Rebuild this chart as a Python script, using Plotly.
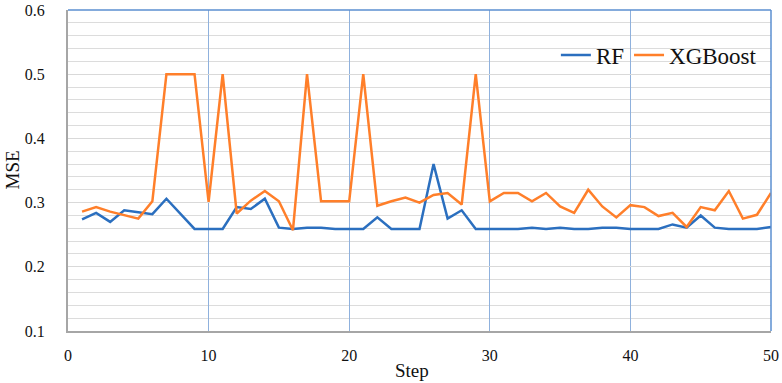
import plotly.graph_objects as go

steps = list(range(1, 51))
rf = [0.274, 0.284, 0.270, 0.288, 0.285, 0.282, 0.306, 0.283, 0.259, 0.259,
      0.259, 0.293, 0.290, 0.306, 0.261, 0.259, 0.261, 0.261, 0.259, 0.259,
      0.259, 0.277, 0.259, 0.259, 0.259, 0.360, 0.275, 0.288, 0.259, 0.259,
      0.259, 0.259, 0.261, 0.259, 0.261, 0.259, 0.259, 0.261, 0.261, 0.259,
      0.259, 0.259, 0.266, 0.261, 0.280, 0.261, 0.259, 0.259, 0.259, 0.262]
xgb = [0.286, 0.293, 0.286, 0.281, 0.275, 0.302, 0.500, 0.500, 0.500, 0.301,
       0.500, 0.283, 0.303, 0.318, 0.302, 0.257, 0.500, 0.302, 0.302, 0.302,
       0.500, 0.295, 0.302, 0.308, 0.300, 0.312, 0.315, 0.297, 0.500, 0.302,
       0.315, 0.315, 0.302, 0.315, 0.294, 0.284, 0.320, 0.294, 0.277, 0.296,
       0.293, 0.279, 0.284, 0.262, 0.293, 0.288, 0.318, 0.275, 0.281, 0.315]
series_names = ["RF", "XGBoost"]
x_ticks = [0, 10, 20, 30, 40, 50]
y_ticks = [0.1, 0.2, 0.3, 0.4, 0.5, 0.6]
x_title = "Step"
y_title = "MSE"

BLUE = "#2B6FBF"
ORANGE = "#FF7F2A"
FONT = "Liberation Serif, Times New Roman, serif"
TXT = "#111111"

fig = go.Figure()
fig.add_trace(go.Scatter(x=steps, y=rf, mode="lines", name=series_names[0],
                         line=dict(color=BLUE, width=2.5)))
fig.add_trace(go.Scatter(x=steps, y=xgb, mode="lines", name=series_names[1],
                         line=dict(color=ORANGE, width=2.5)))

fig.update_layout(
    width=782, height=383,
    margin=dict(l=68, r=11, t=10, b=52, autoexpand=False),
    paper_bgcolor="white", plot_bgcolor="white",
    font=dict(family=FONT, color=TXT, size=16),
    showlegend=True,
    legend=dict(orientation="h", x=0.694, y=0.86, xanchor="left", yanchor="middle",
                bgcolor="rgba(0,0,0,0)", font=dict(family=FONT, size=23, color=TXT),
                itemwidth=30, traceorder="normal"),
    xaxis=dict(range=[0, 50], tickvals=x_ticks, ticktext=[str(v) for v in x_ticks],
               showgrid=True, gridcolor="#8FB1DD", gridwidth=1,
               showline=True, linecolor="#A6A6A6", linewidth=2,
               zeroline=False, ticks="", ticklabelstandoff=9, automargin=False,
               tickfont=dict(family=FONT, size=16, color=TXT)),
    yaxis=dict(range=[0.1, 0.6], tickvals=y_ticks, ticktext=[f"{v:.1f}" for v in y_ticks],
               showgrid=True, gridcolor="#D9D9D9", gridwidth=1,
               minor=dict(dtick=0.02, tick0=0.1, showgrid=True, gridcolor="#DCDCDC", gridwidth=1),
               showline=True, linecolor="#A6A6A6", linewidth=2,
               zeroline=False, ticks="", ticklabelstandoff=18, automargin=False,
               tickfont=dict(family=FONT, size=16, color=TXT)),
    shapes=[
        dict(type="line", xref="paper", yref="paper", x0=0, x1=1, y0=1, y1=1,
             line=dict(color="#5B8FD0", width=1.5)),
        dict(type="line", xref="paper", yref="paper", x0=1, x1=1, y0=0, y1=1,
             line=dict(color="#5B8FD0", width=1.5)),
    ],
    annotations=[
        dict(text=x_title, xref="paper", yref="paper", x=0.49, y=0, yshift=-39,
             xanchor="center", yanchor="middle", showarrow=False,
             font=dict(family=FONT, size=19, color=TXT)),
        dict(text=y_title, xref="paper", yref="paper", x=0, xshift=-56, y=0.5,
             xanchor="center", yanchor="middle", textangle=-90, showarrow=False,
             font=dict(family=FONT, size=19, color=TXT)),
    ],
)

fig.write_html("out.html",
               config={"displayModeBar": False},
               post_script="document.body.style.margin='0';document.body.style.overflow='hidden';")
